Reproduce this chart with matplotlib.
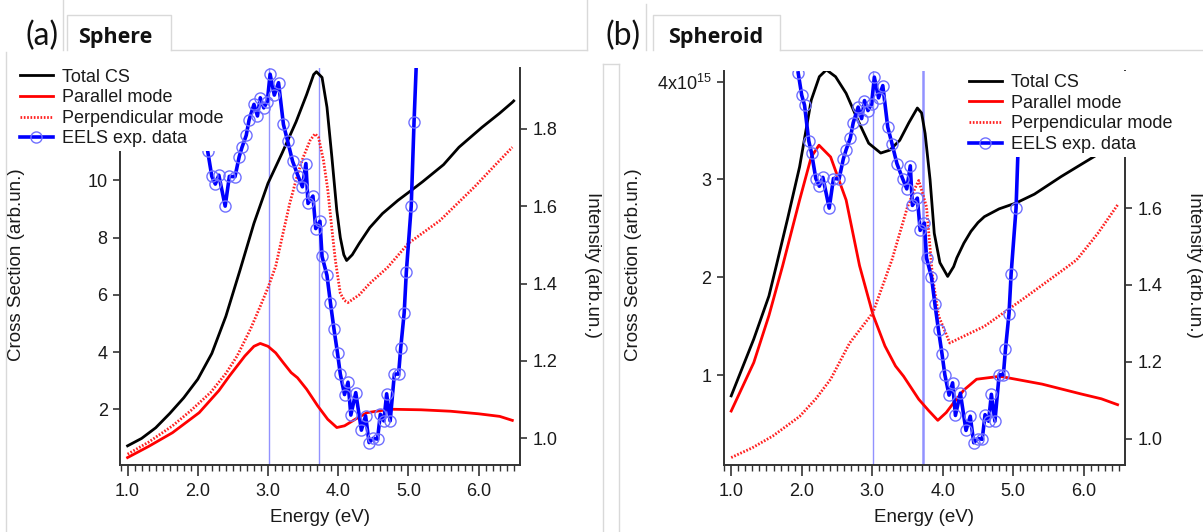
import matplotlib
matplotlib.use("Agg")
import matplotlib.pyplot as plt
from matplotlib.lines import Line2D
from matplotlib.ticker import MultipleLocator, FixedLocator

plt.rcParams['font.family'] = ['Liberation Sans', 'DejaVu Sans']
plt.rcParams['mathtext.fontset'] = 'custom'
plt.rcParams['mathtext.rm'] = 'Liberation Sans'
plt.rcParams['mathtext.it'] = 'Liberation Sans:italic'

# ---------------- data ----------------
# EELS experimental spectrum (right axis, same in both panels)
eels_energy = [1.95, 2.00, 2.04, 2.10, 2.14, 2.20, 2.25, 2.30, 2.39, 2.45,
               2.53, 2.59, 2.63, 2.69, 2.73, 2.80, 2.85, 2.89, 2.94, 2.99,
               3.03, 3.09, 3.15, 3.22, 3.28, 3.35, 3.43, 3.49, 3.54, 3.57,
               3.64, 3.68, 3.74, 3.77, 3.84, 3.89, 3.94, 3.99, 4.03, 4.09,
               4.14, 4.18, 4.25, 4.33, 4.39, 4.44, 4.50, 4.56, 4.60, 4.65,
               4.69, 4.74, 4.80, 4.86, 4.89, 4.94, 4.97, 5.04, 5.08, 5.13]
eels_intensity = [1.952, 1.894, 1.868, 1.775, 1.743, 1.677, 1.657, 1.680, 1.600, 1.677,
                  1.676, 1.728, 1.752, 1.783, 1.822, 1.863, 1.833, 1.880, 1.854, 1.870,
                  1.941, 1.887, 1.919, 1.811, 1.768, 1.716, 1.677, 1.650, 1.710, 1.607,
                  1.626, 1.542, 1.561, 1.470, 1.421, 1.349, 1.282, 1.220, 1.166, 1.113,
                  1.145, 1.060, 1.118, 1.021, 1.058, 0.989, 1.000, 0.998, 1.062, 1.045,
                  1.115, 1.045, 1.166, 1.166, 1.233, 1.325, 1.429, 1.600, 1.817, 2.050]

# Sphere: computed cross sections (arb. units)
sph_total_e = [1.00, 1.20, 1.40, 1.60, 1.80, 2.00, 2.20, 2.40, 2.60, 2.80, 3.00,
               3.20, 3.40, 3.55, 3.65, 3.69, 3.77, 3.84, 3.91, 3.98, 4.03, 4.08,
               4.12, 4.20, 4.30, 4.45, 4.63, 4.85, 5.04, 5.20, 5.34, 5.50, 5.72,
               6.05, 6.30, 6.48, 6.50]
sph_total = [0.72, 0.98, 1.35, 1.85, 2.40, 3.05, 3.95, 5.25, 6.85, 8.50, 9.90,
             10.95, 12.05, 13.00, 13.70, 13.80, 13.60, 12.56, 10.81, 8.95, 8.00, 7.40,
             7.20, 7.40, 7.80, 8.35, 8.84, 9.30, 9.65, 9.95, 10.23, 10.55, 11.16,
             11.86, 12.35, 12.73, 12.78]

sph_par_e = [1.00, 1.30, 1.64, 2.02, 2.30, 2.45, 2.67, 2.80, 2.89, 3.00, 3.11,
             3.22, 3.33, 3.42, 3.55, 3.71, 3.85, 3.98, 4.09, 4.25, 4.41, 4.74,
             5.18, 5.60, 6.00, 6.30, 6.48]
sph_par = [0.31, 0.70, 1.18, 1.88, 2.65, 3.16, 3.86, 4.20, 4.30, 4.20, 3.97,
           3.62, 3.28, 3.10, 2.70, 2.11, 1.65, 1.36, 1.42, 1.66, 1.88, 2.00,
           1.98, 1.93, 1.84, 1.75, 1.61]

sph_perp_e = [1.00, 1.30, 1.64, 1.90, 2.18, 2.40, 2.56, 2.75, 2.89, 3.00, 3.11,
              3.20, 3.31, 3.42, 3.50, 3.60, 3.67, 3.72, 3.79, 3.85, 3.91, 3.96,
              4.03, 4.09, 4.14, 4.30, 4.45, 4.70, 5.00, 5.45, 5.94, 6.21, 6.48]
sph_perp = [0.43, 0.85, 1.42, 1.95, 2.58, 3.25, 3.86, 4.80, 5.60, 6.25, 7.00,
            8.00, 9.20, 10.20, 10.80, 11.40, 11.63, 11.50, 10.70, 9.70, 8.30, 7.20,
            6.05, 5.80, 5.73, 6.00, 6.40, 6.95, 7.80, 8.60, 9.77, 10.47, 11.16]

# Spheroid: computed cross sections (units of 1e15)
spd_total_e = [1.00, 1.32, 1.535, 1.64, 1.80, 1.97, 2.135, 2.25, 2.35, 2.48, 2.63,
               2.80, 2.95, 3.12, 3.25, 3.39, 3.52, 3.64, 3.70, 3.75, 3.82, 3.88,
               3.96, 4.07, 4.155, 4.20, 4.30, 4.40, 4.50, 4.59, 4.80, 5.04, 5.30,
               5.68, 6.00, 6.23, 6.50]
spd_total = [0.79, 1.37, 1.81, 2.12, 2.60, 3.13, 3.81, 4.05, 4.12, 4.05, 3.88,
             3.60, 3.37, 3.27, 3.30, 3.40, 3.58, 3.73, 3.68, 3.47, 3.00, 2.45,
             2.15, 2.01, 2.11, 2.20, 2.35, 2.47, 2.56, 2.62, 2.70, 2.76, 2.85,
             3.03, 3.17, 3.27, 3.45]

spd_par_e = [1.00, 1.32, 1.535, 1.73, 1.97, 2.135, 2.245, 2.41, 2.63, 2.82, 3.01,
             3.18, 3.33, 3.445, 3.66, 3.80, 3.93, 4.05, 4.155, 4.30, 4.48, 4.81,
             5.41, 5.96, 6.25, 6.48]
spd_par = [0.635, 1.13, 1.61, 2.12, 2.79, 3.23, 3.35, 3.23, 2.79, 2.12, 1.62,
           1.30, 1.095, 0.99, 0.755, 0.64, 0.54, 0.62, 0.72, 0.85, 0.96, 0.99,
           0.91, 0.81, 0.76, 0.70]

spd_perp_e = [1.00, 1.30, 1.59, 1.97, 2.20, 2.41, 2.68, 3.01, 3.23, 3.28, 3.50,
              3.60, 3.66, 3.77, 3.855, 3.94, 4.10, 4.30, 4.59, 5.14, 5.79, 5.90,
              6.20, 6.48]
spd_perp = [0.16, 0.26, 0.38, 0.58, 0.76, 0.96, 1.33, 1.64, 2.08, 2.18, 2.72,
            2.90, 2.99, 2.72, 2.01, 1.61, 1.33, 1.40, 1.50, 1.78, 2.12, 2.18,
            2.45, 2.74]

marker_energies_sph = [3.02, 3.73]
marker_energies_spd = [3.01, 3.72]

panel_letters = ["(a)", "(b)"]
panel_titles = ["Sphere", "Spheroid"]
legend_labels = ["Total CS", "Parallel mode", "Perpendicular mode", "EELS exp. data"]
x_ticks = [1.0, 2.0, 3.0, 4.0, 5.0, 6.0]
x_ticklabels = ["1.0", "2.0", "3.0", "4.0", "5.0", "6.0"]
sph_right_ticks = [1.0, 1.2, 1.4, 1.6, 1.8]
sph_right_ticklabels = ["1.0", "1.2", "1.4", "1.6", "1.8"]
spd_right_ticks = [1.0, 1.2, 1.4, 1.6]
spd_right_ticklabels = ["1.0", "1.2", "1.4", "1.6"]
sph_left_ticks = [2, 4, 6, 8, 10]
sph_left_ticklabels = ["2", "4", "6", "8", "10"]
spd_left_ticks = [1, 2, 3, 4]
spd_left_ticklabels = ["1", "2", "3", r"4x10$^{15}$"]

# ---------------- figure ----------------
W, H = 1203, 532
fig = plt.figure(figsize=(W / 100, H / 100), dpi=100)
fig.patch.set_facecolor("white")


def fx(x):
    return x / W


def fy(y):
    return 1 - y / H


def add_axes_px(left, right, top, bottom):
    return fig.add_axes([fx(left), fy(bottom), (right - left) / W, (bottom - top) / H])


AX_COL = "#333333"
TXT_COL = "#1a1a1a"
FS = 13


def style_axes(ax, ax2, left_ticks, left_labels, right_ticks, right_labels):
    for s in ["top", "right"]:
        ax.spines[s].set_visible(False)
    for s in ["top", "left", "bottom"]:
        ax2.spines[s].set_visible(False)
    for sp in [ax.spines["left"], ax.spines["bottom"], ax2.spines["right"]]:
        sp.set_color(AX_COL)
        sp.set_linewidth(1.4)
    ax.set_xlim(0.895, 6.585)
    ax.xaxis.set_major_locator(FixedLocator(x_ticks))
    ax.set_xticklabels(x_ticklabels)
    ax.xaxis.set_minor_locator(MultipleLocator(0.1))
    ax.tick_params(axis="x", which="major", direction="out", length=8, width=1.2,
                   color=AX_COL, labelsize=FS, labelcolor=TXT_COL, pad=5)
    ax.tick_params(axis="x", which="minor", direction="out", length=4.3, width=1.0,
                   color=AX_COL)
    ax.yaxis.set_major_locator(FixedLocator(left_ticks))
    ax.set_yticklabels(left_labels)
    ax.tick_params(axis="y", which="major", direction="out", length=5, width=1.2,
                   color=AX_COL, labelsize=FS, labelcolor=TXT_COL, pad=4)
    ax2.set_ylim(0.931, 1.957)
    ax2.yaxis.set_major_locator(FixedLocator(right_ticks))
    ax2.set_yticklabels(right_labels)
    ax2.tick_params(axis="y", which="major", direction="out", length=5, width=1.2,
                    color=AX_COL, labelsize=FS, labelcolor=TXT_COL, pad=4)
    ax.patch.set_alpha(0)


def draw_panel(ax, ax2, tot_e, tot, par_e, par, perp_e, perp, vlines, vline_widths):
    for v, w in zip(vlines, vline_widths):
        ax.axvline(v, color="#7f7fff", lw=w, alpha=0.85, zorder=1)
    ax.plot(tot_e, tot, color="black", lw=2.0, zorder=3)
    ax.plot(par_e, par, color="#ff0000", lw=2.0, zorder=3)
    ax.plot(perp_e, perp, color="#ff2020", lw=2.0, ls=(0, (0.6, 0.6)), zorder=3)
    ax2.plot(eels_energy, eels_intensity, color="#0000ff", lw=2.6, marker="o",
             ms=8, mfc="none", mec="#7070ff", mew=1.0, zorder=2)


def add_legend(ax2, left_px, top_px):
    handles = [
        Line2D([], [], color="black", lw=2.0),
        Line2D([], [], color="#ff0000", lw=2.0),
        Line2D([], [], color="#ff2020", lw=2.0, ls=(0, (0.6, 0.6))),
        Line2D([], [], color="#0000ff", lw=2.6, marker="o", ms=8, mfc="none",
               mec="#7070ff", mew=1.0),
    ]
    leg = ax2.legend(handles, legend_labels, loc="upper left",
                     bbox_to_anchor=(fx(left_px), fy(top_px)),
                     bbox_transform=fig.transFigure, frameon=True,
                     fancybox=False, framealpha=1.0, edgecolor="none",
                     facecolor="white", fontsize=FS, handlelength=1.85,
                     handletextpad=0.5, labelspacing=0.2, borderpad=0.2,
                     borderaxespad=0.0, numpoints=1)
    for t in leg.get_texts():
        t.set_color(TXT_COL)
    leg.set_zorder(10)


# ---- panel (a): sphere ----
axA = add_axes_px(120.2, 519.7, 68, 465)
axA2 = axA.twinx()
axA.set_ylim(0.05, 13.93)
style_axes(axA, axA2, sph_left_ticks, sph_left_ticklabels,
           sph_right_ticks, sph_right_ticklabels)
draw_panel(axA, axA2, sph_total_e, sph_total, sph_par_e, sph_par,
           sph_perp_e, sph_perp, marker_energies_sph, [1.0, 1.0])
add_legend(axA2, 16, 65)

# ---- panel (b): spheroid ----
axB = add_axes_px(723.8, 1125.0, 71, 465)
axB2 = axB.twinx()
axB.set_ylim(0.084, 4.108)
style_axes(axB, axB2, spd_left_ticks, spd_left_ticklabels,
           spd_right_ticks, spd_right_ticklabels)
draw_panel(axB, axB2, spd_total_e, spd_total, spd_par_e, spd_par,
           spd_perp_e, spd_perp, marker_energies_spd, [1.0, 1.8])
add_legend(axB2, 965, 70.5)

# axis titles
for xc in (320, 924):
    fig.text(fx(xc), fy(517), "Energy (eV)", ha="center", va="center",
             fontsize=FS + 0.5, color=TXT_COL)
for xc in (17, 633):
    fig.text(fx(xc), fy(265), "Cross Section (arb.un.)", ha="center", va="center",
             rotation=90, fontsize=FS + 0.5, color=TXT_COL)
for xc in (592, 1194):
    fig.text(fx(xc), fy(265), "Intensity (arb.un.)", ha="center", va="center",
             rotation=-90, fontsize=FS + 0.5, color=TXT_COL)

# panel tabs
GRID = "#d9d9d9"


def fig_line(xs, ys, color=GRID, lw=1.0):
    fig.add_artist(Line2D([fx(v) for v in xs], [fy(v) for v in ys], color=color,
                          lw=lw, transform=fig.transFigure))


# tab frames for panel (a)
fig_line([63, 63], [0, 50])
fig_line([67, 67, 171, 171], [50, 15, 15, 50])
fig_line([171, 587], [50, 50])
fig_line([587, 587], [0, 50])
fig_line([6, 6], [52, 532])
# tab frames for panel (b)
fig_line([646, 646], [4, 50])
fig_line([653, 653, 780, 780], [50, 15, 15, 50])
fig_line([780, 1203], [50, 50])
fig_line([603, 603], [64, 532])
fig_line([619, 619], [64, 532])
fig_line([603, 619], [64, 64])

letter_font = ["Lato", "DejaVu Sans"]
title_font = ["Open Sans", "DejaVu Sans"]
fig.text(fx(42), fy(36), panel_letters[0], ha="center", va="center", fontsize=23,
         family=letter_font, color="#111111")
fig.text(fx(115), fy(38), panel_titles[0], ha="center", va="center", fontsize=15.5,
         weight="bold", family=title_font, color="#111111")
fig.text(fx(623), fy(36), panel_letters[1], ha="center", va="center", fontsize=23,
         family=letter_font, color="#111111")
fig.text(fx(716), fy(38), panel_titles[1], ha="center", va="center", fontsize=15.5,
         weight="bold", family=title_font, color="#111111")

fig.savefig("out.png", dpi=100, facecolor="white")
